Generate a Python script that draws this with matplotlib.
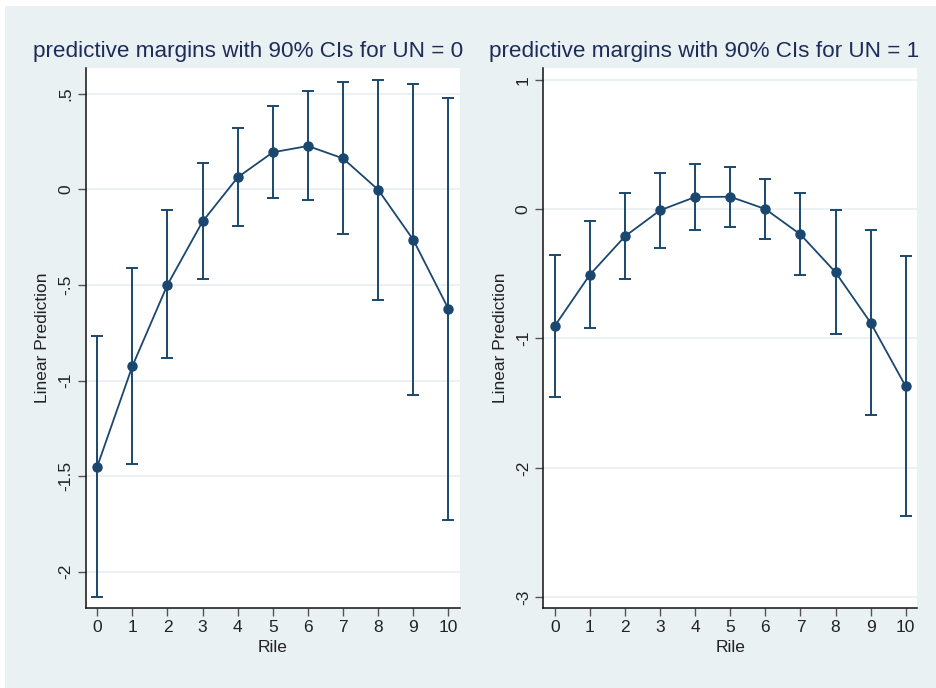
import matplotlib
matplotlib.use("Agg")
import matplotlib.pyplot as plt
from matplotlib.patches import Rectangle
import numpy as np

plt.rcParams['font.family'] = ['Liberation Sans', 'DejaVu Sans']

rile = list(range(11))

un0_margin = [-1.45, -0.925, -0.499, -0.168, 0.063, 0.194, 0.227, 0.162, -0.002, -0.264, -0.625]
un0_upper = [-0.768, -0.412, -0.110, 0.138, 0.319, 0.436, 0.515, 0.562, 0.574, 0.550, 0.478]
un0_lower = [-2.135, -1.437, -0.882, -0.471, -0.192, -0.047, -0.058, -0.236, -0.578, -1.075, -1.728]

un1_margin = [-0.904, -0.508, -0.211, -0.010, 0.093, 0.095, 0.0, -0.196, -0.489, -0.879, -1.371]
un1_upper = [-0.358, -0.095, 0.124, 0.278, 0.348, 0.327, 0.232, 0.121, -0.010, -0.165, -0.363]
un1_lower = [-1.455, -0.922, -0.541, -0.299, -0.162, -0.137, -0.234, -0.510, -0.963, -1.590, -2.370]

un0_yticks = [-2, -1.5, -1, -0.5, 0, 0.5]
un0_yticklabels = ['-2', '-1.5', '-1', '-.5', '0', '.5']
un1_yticks = [-3, -2, -1, 0, 1]
un1_yticklabels = ['-3', '-2', '-1', '0', '1']

titles = ['predictive margins with 90% CIs for UN = 0',
          'predictive margins with 90% CIs for UN = 1']

W, H = 936, 688
bg = '#EAF1F3'
navy = '#1A476F'
title_col = '#1E2C5A'

fig = plt.figure(figsize=(W / 100, H / 100), dpi=100)
fig.patch.set_facecolor('white')
fig.patches.append(Rectangle((5 / W, 0), (W - 5) / W, (H - 6) / H,
                             transform=fig.transFigure, facecolor=bg,
                             edgecolor='none', zorder=-10))


def px_axes(x0, x1, y0, y1):
    return fig.add_axes([x0 / W, (H - y1) / H, (x1 - x0) / W, (y1 - y0) / H])


panels = [
    dict(box=(86, 460, 68, 608), ylim=(-2.19, 0.635), xlim=(-0.32, 10.33),
         m=un0_margin, lo=un0_lower, hi=un0_upper,
         yt=un0_yticks, ytl=un0_yticklabels, title=titles[0],
         title_x=248.5, ylabel_x=50),
    dict(box=(543.3, 917, 68, 608), ylim=(-3.083, 1.09), xlim=(-0.325, 10.32),
         m=un1_margin, lo=un1_lower, hi=un1_upper,
         yt=un1_yticks, ytl=un1_yticklabels, title=titles[1],
         title_x=704, ylabel_x=508),
]

for p in panels:
    ax = px_axes(*p['box'])
    ax.set_facecolor('white')
    m = np.array(p['m'])
    lo = np.array(p['lo'])
    hi = np.array(p['hi'])
    ax.errorbar(rile, m, yerr=[m - lo, hi - m], fmt='none', ecolor=navy,
                elinewidth=1.4, capsize=4.2, capthick=1.4, zorder=3)
    ax.plot(rile, m, color=navy, lw=1.3, marker='o', markersize=6.5,
            markerfacecolor=navy, markeredgecolor=navy, zorder=4)
    ax.set_xlim(*p['xlim'])
    ax.set_ylim(*p['ylim'])
    ax.set_xticks(rile)
    ax.set_xticklabels([str(r) for r in rile], fontsize=12.5, color='#222222')
    ax.set_yticks(p['yt'])
    ax.set_yticklabels(p['ytl'], fontsize=12.5, rotation=90, va='center',
                       color='#222222')
    ax.grid(axis='y', color='#EAF1F3', lw=1.3, zorder=0)
    ax.set_axisbelow(True)
    for s in ['top', 'right']:
        ax.spines[s].set_visible(False)
    for s in ['left', 'bottom']:
        ax.spines[s].set_color('#111111')
        ax.spines[s].set_linewidth(1.1)
    ax.tick_params(axis='both', length=6, width=1.0, color='#555555', pad=3)
    ax.set_xlabel('Rile', fontsize=12.5, color='#222222', labelpad=3)
    ax.set_ylabel('Linear Prediction', fontsize=12.5, color='#222222')
    ax.yaxis.set_label_coords((p['ylabel_x'] - p['box'][0]) / (p['box'][1] - p['box'][0]), 0.5)
    fig.text(p['title_x'] / W, (H - 52) / H, p['title'], ha='center',
             va='center', fontsize=16.2, color=title_col)

fig.savefig('out.png', dpi=100, facecolor=fig.get_facecolor())
